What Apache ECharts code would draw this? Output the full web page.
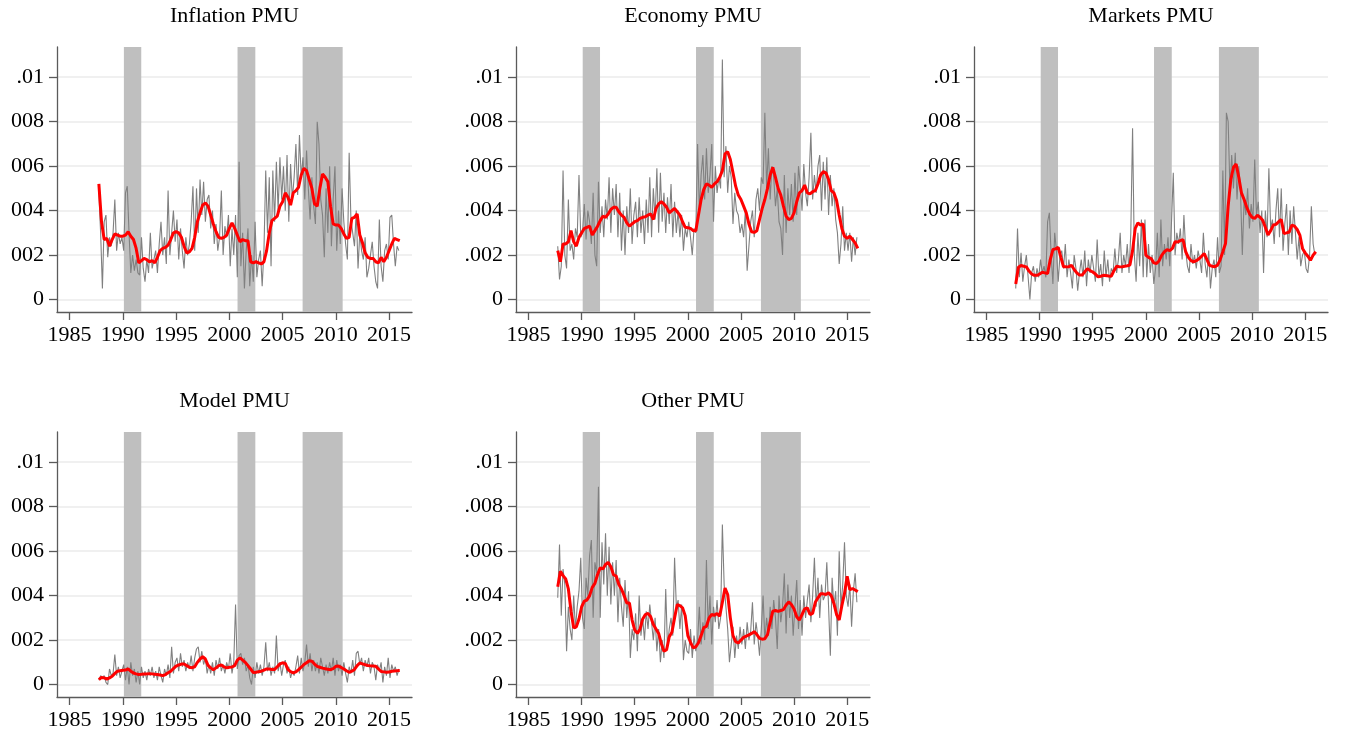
<!DOCTYPE html>
<html>
<head>
<meta charset="utf-8">
<script src="https://cdn.jsdelivr.net/npm/echarts@6/dist/echarts.min.js"></script>
<style>
  html, body { margin: 0; padding: 0; background: #ffffff; }
  #chart { width: 1346px; height: 733px; }
</style>
</head>
<body>
<div id="chart"></div>
<script>
// Policy-uncertainty components (PMU), values in units of 1e-4.
// Raw series: every two months from 1987.75; smoothed series: quarterly from 1987.75.

const rawStart = 1987.75, rawStep = 1 / 6;
const smoothStart = 1987.75, smoothStep = 0.25;

// Shaded periods [start, end] in years
const shadedPeriods = [[1990.1, 1991.73], [2000.77, 2002.44], [2006.88, 2010.64]];

const xTickYears = [1985, 1990, 1995, 2000, 2005, 2010, 2015];
const yTickValues = [0, 20, 40, 60, 80, 100];
const yTickLabelsLeftColumn = ['0', '002', '004', '006', '008', '.01'];
const yTickLabels = ['0', '.002', '.004', '.006', '.008', '.01'];

const panelTitles = ['Inflation PMU', 'Economy PMU', 'Markets PMU', 'Model PMU', 'Other PMU'];

const inflationRaw = [
  48, 30,
  5, 35, 38, 19, 28, 24,
  30, 45, 22, 30, 25, 28,
  22, 48, 51, 30, 12, 20,
  13, 18, 12, 11, 28, 14,
  8, 18, 12, 30, 14, 18,
  22, 12, 25, 35, 20, 28,
  16, 49, 20, 30, 40, 26,
  36, 18, 32, 22, 14, 28,
  20, 25, 35, 51, 22, 50,
  30, 54, 38, 53, 35, 45,
  47, 32, 40, 25, 34, 22,
  28, 49, 20, 33, 28, 38,
  15, 32, 20, 38, 10, 62,
  15, 30, 5, 22, 32, 6,
  20, 8, 35, 10, 18, 22,
  6, 22, 58, 30, 55, 15,
  58, 35, 62, 40, 64, 45,
  60, 40, 65, 35, 61, 45,
  55, 70, 47, 74, 55, 64,
  45, 67, 50, 36, 55, 42,
  34, 80, 70, 45, 38, 19,
  50, 30, 60, 24, 45, 60,
  22, 40, 25, 50, 35, 25,
  18, 66, 36, 30, 24, 40,
  14, 30, 22, 18, 28, 10,
  14, 20, 26, 15, 8, 5,
  36, 15, 8, 22, 25, 18,
  37, 38, 25, 15, 24, 22
];
const inflationSmooth = [
  52,
  35, 27, 27.5, 24,
  27, 29.5, 29, 28.5,
  28.5, 29, 30.5, 28.5,
  27, 23, 16.5, 17.5,
  18.5, 18, 17, 17.5,
  16.5, 19, 22, 23,
  23.5, 24.5, 27, 30,
  30.5, 30, 28, 24,
  21, 21.5, 23, 28,
  35, 39, 42.5, 43.5,
  42, 38, 34, 30.5,
  28, 27.5, 28, 29,
  32, 34.5, 32, 29,
  26, 27, 26.5, 26.5,
  17, 16.5, 17, 16.5,
  16, 17, 22, 30,
  35.5, 36.5, 37.5, 42,
  44, 48, 46, 42.5,
  48, 49, 50.5, 56,
  59, 58, 54, 50,
  43, 42, 50, 56.5,
  55, 53, 42, 34,
  33.5, 33.5, 32, 29.5,
  27.5, 28, 36.5, 37,
  38.5, 29, 25.5, 21,
  19, 18.5, 18.5, 17,
  16.5, 19, 17, 19,
  22, 25, 27.5, 27,
  26.5
];

const economyRaw = [
  24, 9,
  15, 58, 20, 14, 45, 22,
  25, 18, 32, 28, 56, 28,
  30, 43, 27, 40, 35, 25,
  48, 20, 15, 53, 30, 42,
  28, 45, 36, 55, 30, 50,
  38, 52, 28, 48, 22, 40,
  20, 42, 30, 50, 25, 38,
  44, 28, 46, 30, 40, 25,
  45, 30, 55, 28, 50, 36,
  59, 30, 57, 35, 48, 30,
  46, 34, 52, 28, 44, 30,
  40, 28, 38, 22, 32, 28,
  35, 28, 20, 32, 30, 70,
  40, 56, 65, 45, 68, 48,
  56, 70, 35, 60, 48, 55,
  50, 108, 55, 69, 48, 60,
  55, 34, 48, 40, 38, 30,
  34, 28, 40, 13, 24, 35,
  40, 28, 45, 50, 40, 55,
  52, 84, 50, 68, 45, 60,
  55, 42, 50, 35, 32, 20,
  56, 30, 50, 38, 52, 35,
  57, 38, 60, 52, 40, 61,
  48, 42, 55, 75, 45, 56,
  48, 60, 65, 40, 62, 45,
  64, 38, 56, 42, 50, 36,
  30, 16, 25, 42, 22, 30,
  22, 30, 17, 28, 20, 28
];
const economySmooth = [
  22,
  17, 25, 25, 26,
  31, 26, 24, 28,
  30, 32, 32.5, 33,
  29, 31, 33, 35.5,
  37.5, 37, 38.5, 40.5,
  41.5, 41.5, 39.5, 38,
  37, 34.5, 33, 34,
  35, 35.5, 36.5, 37,
  37.2, 38, 38.5, 36,
  41, 43, 44, 43,
  41.5, 39, 40, 41,
  39.5, 38, 35, 32.5,
  32.3, 32, 31, 31,
  38, 45, 49.5, 52,
  51.5, 50.5, 52, 53,
  55, 58, 65.5, 66.5,
  63, 57, 51, 47,
  45, 42, 39, 34,
  30.5, 30.2, 31, 36,
  41, 45, 50, 56,
  59.5, 55, 50, 47,
  42, 37.5, 36, 36.5,
  39, 44, 48, 49,
  51.5, 48, 47.5, 48.5,
  49, 52, 56, 57.5,
  57, 54, 49, 48,
  44.7, 38, 32, 28.5,
  27.5, 28.5, 27, 25.5,
  23
];

const marketsRaw = [
  5, 32,
  10, 21, 8, 15, 20, 10,
  0, 12, 15, 8, 14, 10,
  18, 12, 15, 10, 35, 39,
  20, 7, 30, 22, 8, 20,
  22, 14, 25, 10, 18, 12,
  5, 20, 14, 4, 12, 18,
  10, 22, 6, 18, 12, 20,
  14, 8, 27, 10, 16, 6,
  22, 10, 18, 8, 14, 12,
  23, 12, 18, 30, 12, 20,
  15, 25, 12, 30, 77, 20,
  8, 30, 15, 36, 10, 36,
  10, 25, 12, 20, 7, 14,
  30, 10, 36, 15, 25, 18,
  28, 15, 35, 57, 20, 30,
  25, 32, 18, 38, 22, 15,
  12, 25, 16, 20, 14, 22,
  18, 12, 30, 16, 10, 22,
  5, 14, 18, 10, 28, 12,
  15, 58, 20, 84, 80, 50,
  65, 50, 66, 45, 60, 48,
  20, 45, 38, 50, 32, 43,
  35, 63, 38, 44, 30, 40,
  12, 40, 28, 59, 32, 36,
  25, 40, 50, 28, 50, 22,
  34, 43, 20, 40, 25, 42,
  30, 18, 28, 15, 20, 22,
  14, 12, 20, 42, 25, 20
];
const marketsSmooth = [
  7,
  14.5, 15.3, 15, 14.7,
  12.8, 11.5, 10.9, 10.9,
  11.5, 12.3, 12, 11.7,
  18, 22.5, 22.8, 23.5,
  19, 14.7, 14.7, 14.8,
  15.4, 13.5, 12, 11,
  11, 12.5, 13.9, 13,
  12.4, 11.5, 10.2, 10.5,
  10.9, 10.8, 10.6, 10.5,
  13, 15, 14.8, 14.7,
  15, 15.2, 15.5, 22,
  32, 34.5, 33.5, 34,
  20, 19, 18.4, 16.5,
  16.2, 17.5, 20, 21.5,
  22.5, 22, 23, 26,
  25.9, 26.5, 27, 21.5,
  19, 17.5, 17, 17.5,
  18.3, 19.5, 20.7, 18,
  15.4, 15, 14.8, 15.5,
  18, 21.5, 25.2, 42,
  54, 59.5, 61, 55,
  48, 45, 41.5, 38.7,
  37, 36.5, 37.9, 37,
  35.7, 32.5, 29, 31,
  33.5, 33.8, 35, 36,
  29.7, 30, 30.4, 33.5,
  33, 31.5, 29, 23,
  21, 19.5, 17.7, 20,
  21.5
];

const modelRaw = [
  2, 4,
  3, 4, 1, 0, 7, 4,
  5, 13.5, 4, 8, 3, 6,
  9, 2, 8, 0, 10, 4,
  7, 1, 6, 0, 8, 3,
  6, 2, 7, 4, 8, 3,
  6, 2, 8, 4, 1, 7,
  4, 9, 3, 17, 5, 10,
  12, 6, 14, 8, 11, 6,
  10, 7, 13, 6, 12, 16,
  17, 10, 15, 9, 12, 5,
  9, 5, 10, 4, 11, 7,
  12, 6, 9, 5, 10, 7,
  14, 5, 10, 36, 7, 13,
  14, 9, 12, 6, 9, 3,
  0, 8, 3, 10, 5, 9,
  4, 8, 19, 6, 10, 4,
  8, 5, 22, 6, 10, 4,
  9, 11, 5, 8, 3, 6,
  4, 8, 13, 5, 12, 6,
  10, 18, 8, 14, 6, 11,
  6, 10, 5, 12, 8, 4,
  9, 5, 10, 6, 12, 4,
  11, 6, 9, 4, 10, 5,
  1, 8, 5, 11, 4, 14,
  15, 9, 12, 6, 11, 8,
  12, 5, 10, 8, 2, 9,
  6, 10, 1, 8, 4, 12,
  3, 9, 6, 8, 4, 7
];
const modelSmooth = [
  2.2,
  3.2, 3, 2.5, 3,
  3.7, 5, 6, 6.2,
  6.4, 6.5, 7, 6,
  5.2, 4.8, 4.5, 4.6,
  4.8, 4.8, 4.9, 4.8,
  4.6, 4.5, 4.3, 4,
  4.5, 5.3, 6, 7.2,
  8.3, 8.8, 9.2, 9.3,
  8.5, 7.8, 7.6, 8,
  10, 11.5, 12.5, 11.5,
  8.6, 7.5, 6.7, 7.5,
  8.5, 8.8, 8, 7.5,
  7.8, 7.9, 8.5, 11,
  12, 11, 10, 8.5,
  7, 5.4, 5.5, 5.8,
  6, 6.5, 7, 7,
  6.8, 6.8, 8, 9.3,
  9.8, 9.5, 6.8, 5.8,
  5.3, 5.7, 6.7, 7.8,
  9, 9.8, 10.7, 10.5,
  9.2, 8.2, 7.8, 7.4,
  7.1, 6.9, 6.7, 7.2,
  8.2, 8.3, 7.7, 7,
  6.2, 5.5, 6, 6.8,
  8.5, 9.7, 9.3, 8.9,
  8.6, 8.4, 8.3, 8.2,
  7, 5.9, 5.7, 5.5,
  5.6, 6, 6.1, 6.2,
  6.3
];

const otherRaw = [
  39, 63,
  31, 52, 45, 15, 35, 25,
  20, 40, 25, 35, 42, 57,
  30, 25, 48, 40, 58, 65,
  30, 55, 50, 89, 30, 64,
  45, 68, 40, 62, 36, 55,
  40, 56, 28, 48, 35, 26,
  47, 30, 42, 12, 25, 20,
  32, 15, 40, 22, 30, 20,
  33, 25, 36, 28, 20, 30,
  15, 25, 10, 20, 12, 43,
  17, 25, 30, 22, 57, 35,
  38, 25, 36, 11, 20, 15,
  14, 25, 12, 22, 15, 20,
  35, 18, 28, 20, 56, 25,
  40, 18, 35, 28, 38, 25,
  30, 72, 45, 35, 25, 10,
  18, 26, 12, 22, 16, 26,
  18, 25, 16, 28, 20, 24,
  37, 18, 28, 22, 13, 25,
  40, 20, 30, 22, 35, 25,
  38, 30, 16, 40, 28, 35,
  50, 23, 45, 30, 40, 22,
  35, 47, 25, 38, 22, 40,
  30, 38, 45, 28, 40, 57,
  35, 48, 30, 45, 38, 40,
  55, 35, 13, 48, 35, 42,
  22, 60, 35, 45, 64, 40,
  35, 45, 26, 42, 50, 37
];
const otherSmooth = [
  44,
  51, 49, 47.5, 43,
  33, 25.5, 26, 29.5,
  35, 37.5, 38, 40,
  43.7, 45.5, 49.5, 52.5,
  52, 54, 55, 53,
  49.4, 48.8, 45, 43,
  40, 36.7, 36.7, 29,
  24.5, 23, 25, 29.5,
  31.5, 32, 30.5, 27,
  25, 23, 18.5, 15,
  15.7, 21.5, 23.5, 30,
  36, 35.5, 34.5, 31,
  22, 19, 16.5, 17,
  18.8, 22, 25.6, 26.2,
  30, 31.5, 31.2, 32,
  30.7, 37, 43.4, 40.5,
  30, 22, 19.3, 18.7,
  20, 21.2, 21.8, 22.3,
  23, 23.8, 22.5, 20.8,
  20.4, 20.6, 22.5, 28,
  33, 33.3, 32.9, 33.3,
  33.7, 35.8, 37.2, 36,
  34, 30.5, 29, 31.5,
  34, 34.5, 31.5, 32,
  37, 39, 40.8, 40.8,
  40.5, 41.3, 40, 36.5,
  31.5, 29, 35.5, 41,
  48.7, 42.7, 43.2, 42.5,
  41.8
];

const rawSeries = [inflationRaw, economyRaw, marketsRaw, modelRaw, otherRaw];
const smoothSeries = [inflationSmooth, economySmooth, marketsSmooth, modelSmooth, otherSmooth];

// Panel layout (pixels)
const panelBoxes = [
  { left: 57,  top: 47,  width: 355, height: 265 },
  { left: 516, top: 47,  width: 354, height: 265 },
  { left: 974, top: 47,  width: 354, height: 265 },
  { left: 57,  top: 432, width: 355, height: 265 },
  { left: 516, top: 432, width: 354, height: 265 }
];
const X_MIN = 1983.82, X_MAX = 2017.15;
const Y_MIN = -5.6, Y_MAX = 113.6;

const FONT = '"Liberation Serif", "Times New Roman", serif';
const AXIS_COLOR = '#5a5a5a';

const grids = [], xAxes = [], yAxes = [], series = [], graphics = [];

panelBoxes.forEach((box, i) => {
  const leftColumn = (i === 0 || i === 3);
  const labels = leftColumn ? yTickLabelsLeftColumn : yTickLabels;
  grids.push({ left: box.left, top: box.top, width: box.width, height: box.height, containLabel: false });

  xAxes.push({
    type: 'value', gridIndex: i, min: X_MIN, max: X_MAX,
    axisLine: { show: true, onZero: false, lineStyle: { color: AXIS_COLOR, width: 1.3 } },
    axisTick: { show: true, length: 8, customValues: xTickYears, lineStyle: { color: AXIS_COLOR, width: 1.3 } },
    axisLabel: { customValues: xTickYears, formatter: v => String(Math.round(v)), margin: 12,
                 fontFamily: FONT, fontSize: 22, color: '#000' },
    splitLine: { show: false }
  });

  yAxes.push({
    type: 'value', gridIndex: i, min: Y_MIN, max: Y_MAX,
    axisLine: { show: true, onZero: false, lineStyle: { color: AXIS_COLOR, width: 1.3 } },
    axisTick: { show: true, length: 8, customValues: yTickValues, lineStyle: { color: AXIS_COLOR, width: 1.3 } },
    axisLabel: { customValues: yTickValues,
                 formatter: v => labels[yTickValues.indexOf(Math.round(v))],
                 margin: 13, padding: [4, 0, 0, 0],
                 fontFamily: FONT, fontSize: 22, color: '#000' },
    splitLine: { show: true, lineStyle: { color: '#ebebeb', width: 1.5 } }
  });

  // Shaded periods
  series.push({
    type: 'line', xAxisIndex: i, yAxisIndex: i, data: [], silent: true, z: 1,
    markArea: {
      silent: true,
      itemStyle: { color: '#bfbfbf', opacity: 1 },
      data: shadedPeriods.map(p => [{ xAxis: p[0], yAxis: Y_MAX }, { xAxis: p[1], yAxis: Y_MIN }])
    }
  });

  series.push({
    type: 'line', xAxisIndex: i, yAxisIndex: i, z: 3,
    data: rawSeries[i].map((v, k) => [rawStart + k * rawStep, v]),
    showSymbol: false, symbol: 'none', animation: false,
    lineStyle: { color: '#808080', width: 1.1 }
  });

  series.push({
    type: 'line', xAxisIndex: i, yAxisIndex: i, z: 4,
    data: smoothSeries[i].map((v, k) => [smoothStart + k * smoothStep, v]),
    showSymbol: false, symbol: 'none', animation: false,
    lineStyle: { color: '#ff0000', width: 3 }
  });

  graphics.push({
    type: 'text',
    x: box.left + box.width / 2,
    y: box.top - 31,
    style: { text: panelTitles[i], fill: '#000', font: '22px ' + FONT,
             textAlign: 'center', textVerticalAlign: 'middle' }
  });
});

const chart = echarts.init(document.getElementById('chart'), null, { renderer: 'canvas' });
chart.setOption({
  animation: false,
  backgroundColor: '#ffffff',
  grid: grids,
  xAxis: xAxes,
  yAxis: yAxes,
  series: series,
  graphic: graphics
});
</script>
</body>
</html>
